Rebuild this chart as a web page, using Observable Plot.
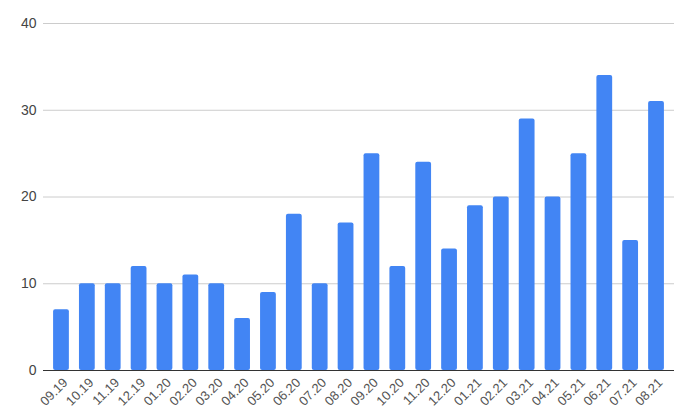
<!DOCTYPE html>
<html>
<head>
<meta charset="utf-8">
<script src="https://cdn.jsdelivr.net/npm/d3@7"></script>
<script src="https://cdn.jsdelivr.net/npm/@observablehq/plot@0.6"></script>
<style>
  html, body { margin: 0; padding: 0; background: #fff; }
  #chart { width: 686px; height: 415px; }
</style>
</head>
<body>
<div id="chart"></div>
<script>
const months = ["09.19","10.19","11.19","12.19","01.20","02.20","03.20","04.20","05.20","06.20","07.20","08.20",
                "09.20","10.20","11.20","12.20","01.21","02.21","03.21","04.21","05.21","06.21","07.21","08.21"];
const counts = [7,10,10,12,10,11,10,6,9,18,10,17,25,12,24,14,19,20,29,20,25,34,15,31];
const yTicks = [0,10,20,30,40];

const data = months.map((m, i) => ({month: m, value: counts[i]}));

const chart = Plot.plot({
  width: 686,
  height: 415,
  marginLeft: 43,
  marginRight: 12,
  marginTop: 23,
  marginBottom: 45,
  style: {fontFamily: "'Liberation Sans', Arial, sans-serif", fontSize: "12px", background: "#fff", color: "#444"},
  x: {domain: months, padding: 0.39, round: false, label: null},
  y: {domain: [0, 40], label: null},
  marks: [
    Plot.gridY(yTicks, {stroke: "#cccccc", strokeOpacity: 1, strokeWidth: 1}),
    Plot.axisY(yTicks, {tickSize: 0, tickPadding: 7, label: null, fontSize: 14, fill: "#444"}),
    Plot.barY(data, {x: "month", y: "value", fill: "#4285F4", rx: 2}),
    Plot.ruleY([0], {stroke: "#333", strokeWidth: 1}),
    Plot.axisX({tickSize: 0, tickRotate: -45, tickPadding: 10, dx: 4, label: null, fontSize: 13, fill: "#555"})
  ]
});
document.getElementById("chart").appendChild(chart);
</script>
</body>
</html>
